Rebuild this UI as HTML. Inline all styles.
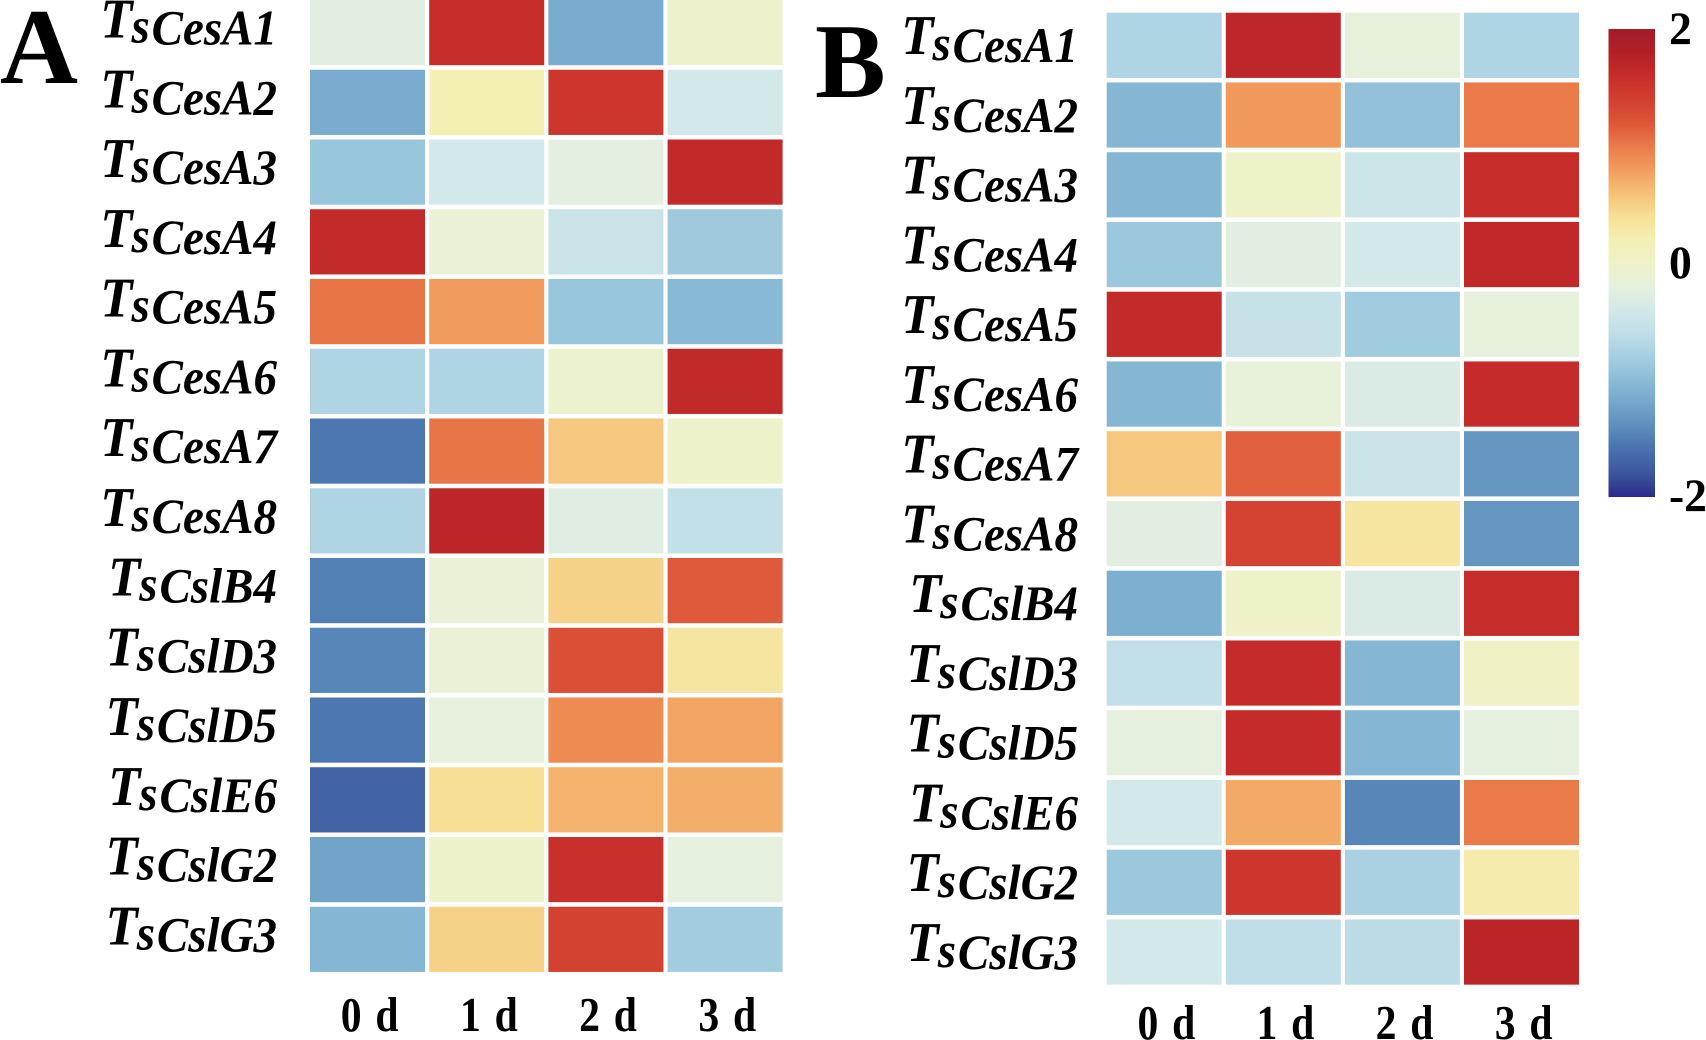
<!DOCTYPE html>
<html lang="en">
<head>
<meta charset="utf-8">
<title>TsCesA and TsCsl expression heatmaps</title>
<style>
html,body{margin:0;padding:0;background:#fff;width:1706px;height:1040px;overflow:hidden}
svg{display:block}
text{font-family:"Liberation Serif",serif;font-weight:bold;fill:#000}
.gene{font-style:italic;font-size:50px}
</style>
</head>
<body>
<svg id="figure" xmlns="http://www.w3.org/2000/svg" width="1706" height="1040" viewBox="0 0 1706 1040"></svg>
<script>
const genes = ["TsCesA1","TsCesA2","TsCesA3","TsCesA4","TsCesA5","TsCesA6","TsCesA7","TsCesA8","TsCslB4","TsCslD3","TsCslD5","TsCslE6","TsCslG2","TsCslG3"];
const days = ["0 d","1 d","2 d","3 d"];
const panelAValues = [
  [-0.25,1.6,-1.15,-0.03],
  [-1.15,0.2,1.5,-0.4],
  [-0.9,-0.4,-0.22,1.64],
  [1.63,-0.1,-0.5,-0.85],
  [1.03,0.8,-0.9,-1.03],
  [-0.72,-0.72,-0.05,1.64],
  [-1.55,1.03,0.55,-0.02],
  [-0.72,1.7,-0.27,-0.57],
  [-1.5,-0.12,0.48,1.18],
  [-1.45,-0.1,1.25,0.33],
  [-1.55,-0.18,0.9,0.75],
  [-1.7,0.4,0.67,0.7],
  [-1.22,-0.02,1.56,-0.2],
  [-1.05,0.48,1.38,-0.82]
];
const panelBValues = [
  [-0.72,1.69,-0.17,-0.72],
  [-1.05,0.82,-0.95,1.0],
  [-1.05,0,-0.47,1.6],
  [-0.87,-0.25,-0.4,1.66],
  [1.63,-0.53,-0.83,-0.17],
  [-1.05,-0.15,-0.33,1.62],
  [0.55,1.15,-0.5,-1.33],
  [-0.25,1.37,0.33,-1.33],
  [-1.12,0,-0.33,1.6],
  [-0.58,1.61,-1.05,0.05],
  [-0.2,1.62,-1.05,-0.2],
  [-0.4,0.72,-1.45,1.0],
  [-0.87,1.5,-0.77,0.25],
  [-0.4,-0.6,-0.63,1.71]
];
const colorbarTicks = [2,0,-2];
const rampColors = ["#2a2a8a","#3c569c","#4870ad","#5c8dbb","#74a7cc","#8bbcd6","#a5cfe1","#bfdee8","#d3e8e8","#e6f0de","#eff2c9","#f4efb3","#f7df95","#f5bf76","#f19c5c","#ea7a4a","#dd5638","#d23f30","#c62c2a","#b22027","#a21c2a"];

const NS = "http://www.w3.org/2000/svg";
const svg = document.getElementById("figure");
const VMIN = -2, VMAX = 2;

function hexToRgb(h){return [1,3,5].map(i=>parseInt(h.substr(i,2),16));}
function colorFor(v){
  const t = Math.max(0,Math.min(1,(v-VMIN)/(VMAX-VMIN)))*(rampColors.length-1);
  const i = Math.min(rampColors.length-2,Math.floor(t));
  const f = t-i, a = hexToRgb(rampColors[i]), b = hexToRgb(rampColors[i+1]);
  const c = a.map((x,k)=>Math.round(x+(b[k]-x)*f));
  return "rgb("+c.join(",")+")";
}
function make(tag,attrs,parent){
  const el = document.createElementNS(NS,tag);
  for(const k in attrs) el.setAttribute(k,attrs[k]);
  (parent||svg).appendChild(el);
  return el;
}

function drawPanel(cfg){
  const g = make("g",{});
  
  

  const letter = make("text",{x:cfg.letterX,y:cfg.letterY,"font-size":cfg.letterSize},g);
  
  
  letter.textContent = cfg.letter;

  const xCol = c => cfg.x0 + c*cfg.colPitch;
  const yRow = r => cfg.y0 + r*cfg.rowPitch;

  cfg.values.forEach((row,r)=>{
    row.forEach((v,c)=>{
      const cell = make("rect",{x:xCol(c),y:yRow(r),width:cfg.cellW,height:cfg.cellH,fill:colorFor(v)},g);
      
      
    });
    const name = genes[r];
    const label = make("text",{class:"gene","text-anchor":"end",transform:"translate("+cfg.labelX+","+(yRow(r)+cfg.labelBase)+") scale(0.94,1)"},g);
    
    
    const capT = make("tspan",{dy:-cfg.tsRaise,"font-size":56},label);
    capT.textContent = name.slice(0,1);
    const lowS = make("tspan",{dy:cfg.tsRaise-2,dx:-1},label);
    lowS.textContent = name.slice(1,2);
    const rest = make("tspan",{dy:2,dx:2},label);
    rest.textContent = name.slice(2);
  });

  days.forEach((d,c)=>{
    const cx = xCol(c)+cfg.cellW/2+cfg.dayShift;
    const t = make("text",{"text-anchor":"middle","font-size":49,"letter-spacing":2,transform:"translate("+cx+","+cfg.dayBase+") scale(0.85,1)"},g);
    
    
    t.textContent = d.replace(" ","\u00a0");
  });
}

drawPanel({id:"panel-a",letter:"A",letterX:0,letterY:83,letterSize:108,values:panelAValues,
  x0:310,y0:0,colPitch:119.2,rowPitch:69.75,cellW:115,cellH:65.2,
  labelX:277,labelBase:44.5,tsRaise:7,dayBase:1031,dayShift:3});
drawPanel({id:"panel-b",letter:"B",letterX:815,letterY:97,letterSize:106,values:panelBValues,
  x0:1106.7,y0:12.7,colPitch:119.1,rowPitch:69.75,cellW:115,cellH:65.2,
  labelX:1078,labelBase:49.5,tsRaise:8,dayBase:1039,dayShift:3});

/* colour bar */
const cbTop = 29, cbBottom = 497, cbX = 1608.5, cbW = 46.5;
const cbY = v => cbTop + (VMAX-v)/(VMAX-VMIN)*(cbBottom-cbTop);
const defs = make("defs",{});
const grad = make("linearGradient",{id:"cbGrad",x1:0,y1:1,x2:0,y2:0},defs);
rampColors.forEach((col,i)=>{
  make("stop",{offset:i/(rampColors.length-1),"stop-color":col},grad);
});
const bar = make("rect",{x:cbX,y:cbY(VMAX),width:cbW,height:cbY(VMIN)-cbY(VMAX),fill:"url(#cbGrad)"});


colorbarTicks.forEach(v=>{
  const base = v===VMAX ? cbY(v)+15 : (v===VMIN ? cbY(v)+14 : cbY(v)+15);
  const t = make("text",{"font-size":47,transform:"translate(1669,"+base+") scale(0.97,1)"});
  
  
  t.textContent = String(v);
});
</script>
</body>
</html>
